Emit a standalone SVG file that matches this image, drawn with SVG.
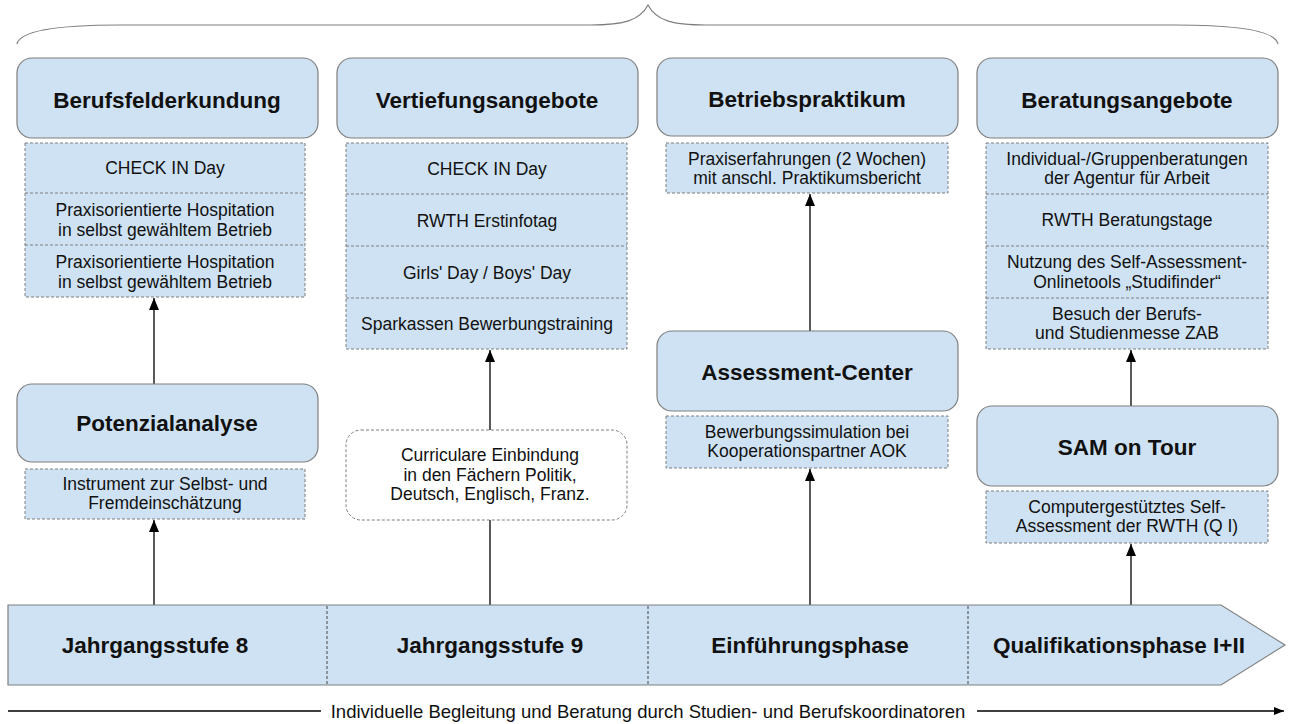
<svg xmlns="http://www.w3.org/2000/svg" width="1289" height="724" viewBox="0 0 1289 724">
<style>
.hd{fill:#cfe2f3;stroke:#7f7f7f;stroke-width:1.2}
.ls{fill:#cfe2f3;stroke:#7f7f7f;stroke-width:1;stroke-dasharray:3,2}
.sep{stroke:#7f7f7f;stroke-width:1;stroke-dasharray:3,2}
.dv{stroke:#444;stroke-width:1;stroke-dasharray:3,2}
.t{font-family:"Liberation Sans",Arial,sans-serif;fill:#111;text-anchor:middle}
.b{font-weight:bold;font-size:22.5px}
.r{font-size:17.5px}
.c{stroke:#000;stroke-width:1.3;fill:none}
</style>
<defs>
<marker id="ah" markerWidth="12" markerHeight="10" refX="12" refY="5" orient="auto" markerUnits="userSpaceOnUse" viewBox="0 0 12 10">
<path d="M0,0 L12,5 L0,10 Z" fill="#000"/>
</marker>
<marker id="ar" markerWidth="10" markerHeight="8" refX="10" refY="4" orient="auto" markerUnits="userSpaceOnUse" viewBox="0 0 10 8">
<path d="M0,0 L10,4 L0,8 Z" fill="#000"/>
</marker>
</defs>
<rect width="1289" height="724" fill="#fff"/>

<g id="brace">
<path d="M17,44 C20,30 60,25 120,25 L590,25 C625,25 640,20 648,5 C656,20 671,25 706,25 L1176,25 C1236,25 1275,30 1278,44" fill="none" stroke="#7f7f7f" stroke-width="1.2"/>
</g>

<g id="connectors">
<line class="c" x1="154" y1="605" x2="154" y2="520" marker-end="url(#ah)"/>
<line class="c" x1="154" y1="384" x2="154" y2="298" marker-end="url(#ah)"/>
<line class="c" x1="490" y1="605" x2="490" y2="520"/>
<line class="c" x1="490" y1="430" x2="490" y2="350" marker-end="url(#ah)"/>
<line class="c" x1="810" y1="605" x2="810" y2="469" marker-end="url(#ah)"/>
<line class="c" x1="810" y1="331" x2="810" y2="194" marker-end="url(#ah)"/>
<line class="c" x1="1131" y1="605" x2="1131" y2="544" marker-end="url(#ah)"/>
<line class="c" x1="1131" y1="406" x2="1131" y2="350" marker-end="url(#ah)"/>
<line class="c" x1="8" y1="711" x2="321" y2="711"/>
<line class="c" x1="977" y1="711" x2="1284" y2="711" marker-end="url(#ar)"/>
</g>

<g id="col1">
<rect class="hd" x="17" y="58" width="301" height="80" rx="15"/>
<text class="t b" x="167" y="108">Berufsfelderkundung</text>
<rect class="ls" x="25" y="143" width="280" height="154"/>
<line class="sep" x1="25" y1="193" x2="305" y2="193"/>
<line class="sep" x1="25" y1="245" x2="305" y2="245"/>
<text class="t r" x="165" y="174">CHECK IN Day</text>
<text class="t r" x="165" y="216">Praxisorientierte Hospitation</text>
<text class="t r" x="165" y="236">in selbst gewähltem Betrieb</text>
<text class="t r" x="165" y="268">Praxisorientierte Hospitation</text>
<text class="t r" x="165" y="288">in selbst gewähltem Betrieb</text>
</g>

<g id="potenzial">
<rect class="hd" x="17" y="384" width="301" height="78" rx="15"/>
<text class="t b" x="167" y="431">Potenzialanalyse</text>
<rect class="ls" x="25" y="469" width="280" height="50"/>
<text class="t r" x="165" y="490">Instrument zur Selbst- und</text>
<text class="t r" x="165" y="509">Fremdeinschätzung</text>
</g>

<g id="col2">
<rect class="hd" x="337" y="58" width="301" height="80" rx="15"/>
<text class="t b" x="487" y="108">Vertiefungsangebote</text>
<rect class="ls" x="346" y="143" width="281" height="206"/>
<line class="sep" x1="346" y1="194" x2="627" y2="194"/>
<line class="sep" x1="346" y1="246" x2="627" y2="246"/>
<line class="sep" x1="346" y1="298" x2="627" y2="298"/>
<text class="t r" x="487" y="175">CHECK IN Day</text>
<text class="t r" x="487" y="227">RWTH Erstinfotag</text>
<text class="t r" x="487" y="279">Girls' Day / Boys' Day</text>
<text class="t r" x="487" y="330">Sparkassen Bewerbungstraining</text>
</g>

<g id="curricular">
<rect x="346" y="430" width="281" height="90" rx="15" fill="#fff" stroke="#7f7f7f" stroke-width="1" stroke-dasharray="3,2"/>
<text class="t r" x="490" y="461">Curriculare Einbindung</text>
<text class="t r" x="490" y="481">in den Fächern Politik,</text>
<text class="t r" x="490" y="500">Deutsch, Englisch, Franz.</text>
</g>

<g id="col3">
<rect class="hd" x="657" y="58" width="301" height="78" rx="15"/>
<text class="t b" x="807" y="107">Betriebspraktikum</text>
<rect class="ls" x="666" y="143" width="282" height="50"/>
<text class="t r" x="807" y="165">Praxiserfahrungen (2 Wochen)</text>
<text class="t r" x="807" y="184">mit anschl. Praktikumsbericht</text>
</g>

<g id="assessment">
<rect class="hd" x="657" y="331" width="301" height="80" rx="15"/>
<text class="t b" x="807" y="380">Assessment-Center</text>
<rect class="ls" x="666" y="416" width="282" height="52"/>
<text class="t r" x="807" y="438">Bewerbungssimulation bei</text>
<text class="t r" x="807" y="457">Kooperationspartner AOK</text>
</g>

<g id="col4">
<rect class="hd" x="977" y="58" width="301" height="80" rx="15"/>
<text class="t b" x="1127" y="108">Beratungsangebote</text>
<rect class="ls" x="986" y="143" width="282" height="206"/>
<line class="sep" x1="986" y1="194" x2="1268" y2="194"/>
<line class="sep" x1="986" y1="246" x2="1268" y2="246"/>
<line class="sep" x1="986" y1="298" x2="1268" y2="298"/>
<text class="t r" x="1127" y="165">Individual-/Gruppenberatungen</text>
<text class="t r" x="1127" y="184">der Agentur für Arbeit</text>
<text class="t r" x="1127" y="226">RWTH Beratungstage</text>
<text class="t r" x="1127" y="268">Nutzung des Self-Assessment-</text>
<text class="t r" x="1127" y="288">Onlinetools „Studifinder“</text>
<text class="t r" x="1127" y="320">Besuch der Berufs-</text>
<text class="t r" x="1127" y="339">und Studienmesse ZAB</text>
</g>

<g id="sam">
<rect class="hd" x="977" y="406" width="301" height="80" rx="15"/>
<text class="t b" x="1127" y="455">SAM on Tour</text>
<rect class="ls" x="986" y="491" width="282" height="52"/>
<text class="t r" x="1127" y="513">Computergestütztes Self-</text>
<text class="t r" x="1127" y="532">Assessment der RWTH (Q I)</text>
</g>

<g id="timeline">
<path d="M8,605 L1221,605 L1285,645 L1221,685 L8,685 Z" fill="#cfe2f3" stroke="#7f7f7f" stroke-width="1.2"/>
<line class="dv" x1="327" y1="606" x2="327" y2="684"/>
<line class="dv" x1="648" y1="606" x2="648" y2="684"/>
<line class="dv" x1="968" y1="606" x2="968" y2="684"/>
<text class="t b" x="155" y="653">Jahrgangsstufe 8</text>
<text class="t b" x="490" y="653">Jahrgangsstufe 9</text>
<text class="t b" x="810" y="653">Einführungsphase</text>
<text class="t b" x="1119" y="653">Qualifikationsphase I+II</text>
</g>

<g id="footer">
<text class="t" x="648" y="718" font-size="18.5">Individuelle Begleitung und Beratung durch Studien- und Berufskoordinatoren</text>
</g>
</svg>
